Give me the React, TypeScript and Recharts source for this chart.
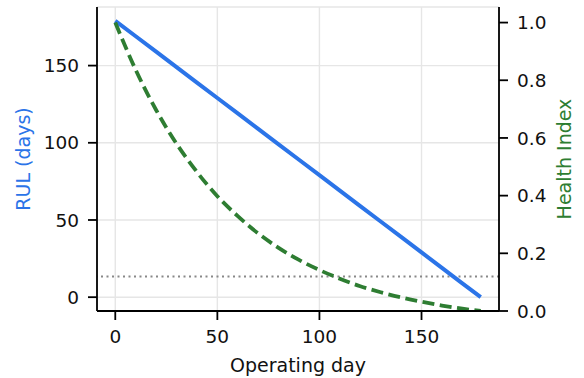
import React from "react";
import {
  LineChart,
  Line,
  XAxis,
  YAxis,
  CartesianGrid,
  ReferenceLine,
} from "recharts";

const days = [0, 10, 20, 30, 40, 50, 60, 70, 80, 90, 100, 110, 120, 130, 140, 150, 160, 170, 179];
const rulDays = [179, 169, 159, 149, 139, 129, 119, 109, 99, 89, 79, 69, 59, 49, 39, 29, 19, 9, 0];
const healthIndex = [1.0, 0.836, 0.697, 0.58, 0.482, 0.398, 0.329, 0.269, 0.219, 0.177, 0.142, 0.112, 0.086, 0.065, 0.047, 0.032, 0.019, 0.008, 0.0];

const dayTicks = [0, 50, 100, 150];
const rulTicks = [0, 50, 100, 150];
const healthTicks = [0, 0.2, 0.4, 0.6, 0.8, 1.0];
const healthThreshold = 0.12;

const data = days.map((d, i) => ({ day: d, rul: rulDays[i], hi: healthIndex[i] }));

const FONT = "DejaVu Sans, sans-serif";
const BLUE = "#2b74e8";
const GREEN = "#2e7d32";
const tickStyle = { fontSize: 18.5, fill: "#111", fontFamily: FONT };

const AxisTitle = ({ viewBox, text, color, dx, rotate }: any) => {
  const { x, y, width, height } = viewBox;
  if (rotate) {
    const cx = x + dx;
    const cy = y + height / 2;
    return (
      <text
        x={cx}
        y={cy}
        transform={`rotate(-90, ${cx}, ${cy})`}
        textAnchor="middle"
        dominantBaseline="central"
        fill={color}
        fontSize={19}
        fontFamily={FONT}
      >
        {text}
      </text>
    );
  }
  return (
    <text x={x + width / 2} y={y + 60.5} textAnchor="middle" fill={color} fontSize={19} fontFamily={FONT}>
      {text}
    </text>
  );
};

export default function App() {
  return (
    <div style={{ position: "absolute", left: 0, top: 0, width: 584, height: 378, background: "#fff" }}>
      <LineChart width={584} height={378} data={data} margin={{ top: 7, right: 0, bottom: 0, left: 0 }}>
        <CartesianGrid yAxisId="left" stroke="#e6e6e6" strokeWidth={1.4} />
        <XAxis
          dataKey="day"
          type="number"
          domain={[-8.95, 187.95]}
          ticks={dayTicks}
          height={67}
          tick={tickStyle}
          tickSize={9}
          tickMargin={10}
          stroke="#000"
          strokeWidth={1.8}
          allowDataOverflow
          label={{ content: (p: any) => <AxisTitle {...p} text="Operating day" color="#111" /> }}
        />
        <XAxis xAxisId="top" orientation="top" dataKey="day" type="number" domain={[-8.95, 187.95]} height={0} tick={false} tickLine={false} stroke="#000" strokeWidth={1.8} />
        <YAxis
          yAxisId="left"
          type="number"
          domain={[-8.95, 187.95]}
          ticks={rulTicks}
          width={97}
          tick={tickStyle}
          tickSize={9}
          tickMargin={9}
          stroke="#000"
          strokeWidth={1.8}
          allowDataOverflow
          label={{ content: (p: any) => <AxisTitle {...p} text="RUL (days)" color={BLUE} dx={22.5} rotate /> }}
        />
        <YAxis
          yAxisId="right"
          orientation="right"
          type="number"
          domain={[0, 1.054]}
          ticks={healthTicks}
          tickFormatter={(v: number) => v.toFixed(1)}
          width={85}
          tick={tickStyle}
          tickSize={9}
          tickMargin={9}
          stroke="#000"
          strokeWidth={1.8}
          allowDataOverflow
          label={{ content: (p: any) => <AxisTitle {...p} text="Health Index" color={GREEN} dx={65} rotate /> }}
        />
        <ReferenceLine yAxisId="right" y={healthThreshold} stroke="#888" strokeWidth={2} strokeDasharray="2 3.5" />
        <Line yAxisId="left" dataKey="rul" stroke={BLUE} strokeWidth={4} dot={false} isAnimationActive={false} />
        <Line yAxisId="right" type="monotone" dataKey="hi" stroke={GREEN} strokeWidth={3.8} strokeDasharray="12 5.5" dot={false} isAnimationActive={false} />
      </LineChart>
    </div>
  );
}
